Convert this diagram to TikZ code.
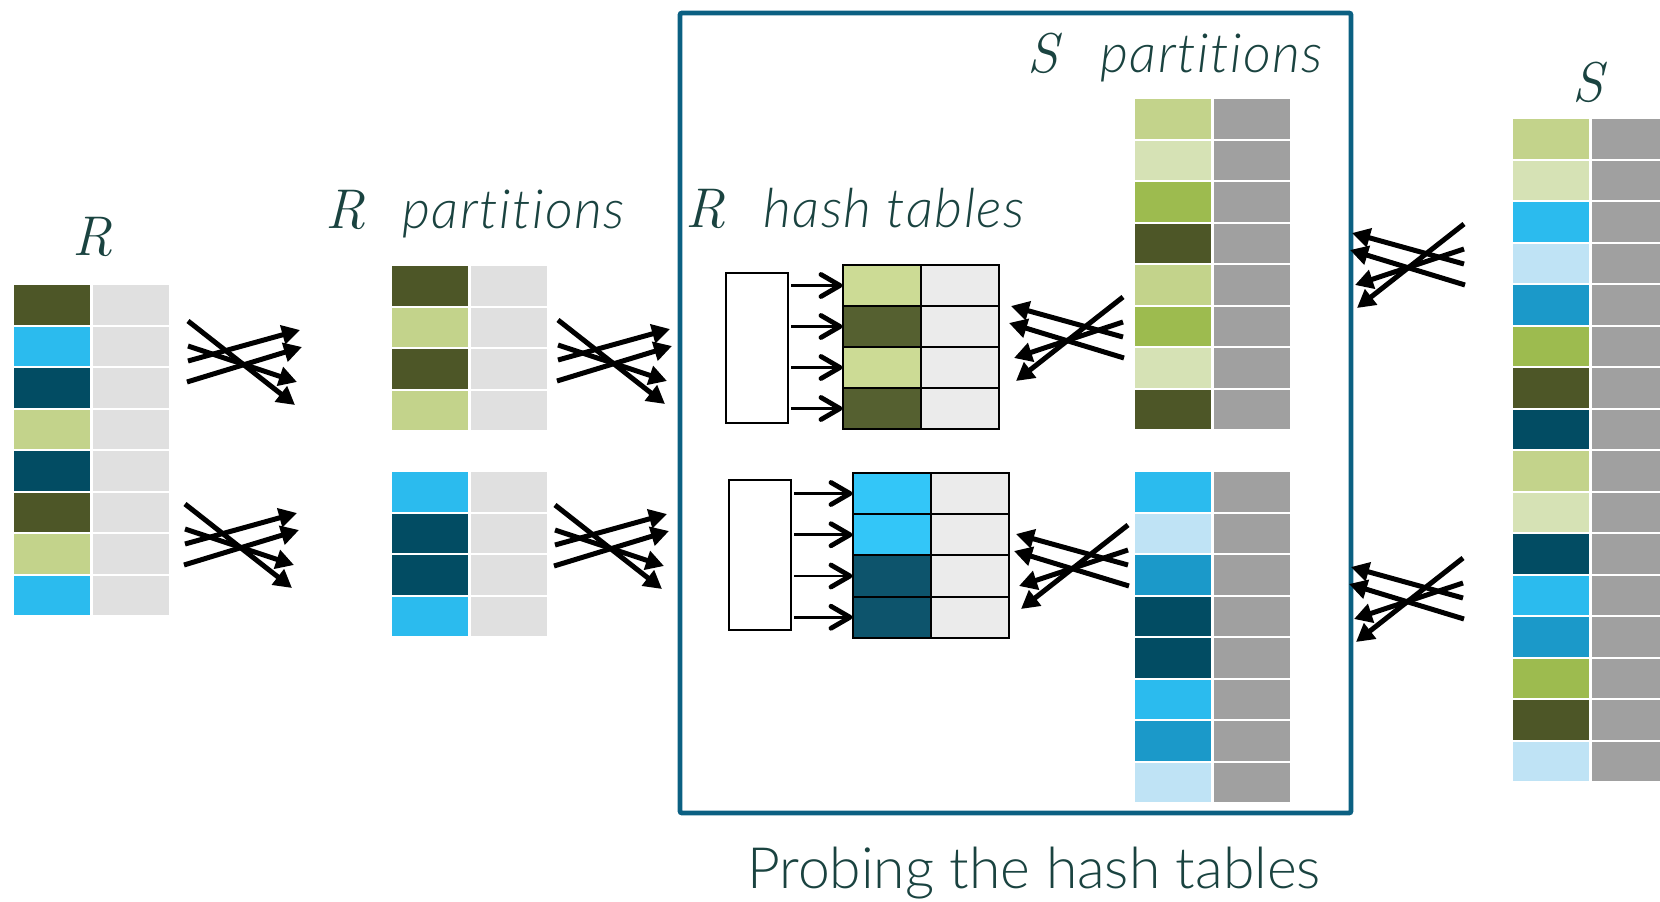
\documentclass[tikz,border=0pt]{standalone}
\usepackage{fontspec}
\usetikzlibrary{arrows.meta}
\newfontfamily\labfont{Lato}[UprightFont={* Light}, ItalicFont={* Light Italic}]
\newfontfamily\wordfont{Lato}[UprightFont={* Light Italic}, LetterSpace=2.8, Ligatures=NoCommon]
\definecolor{txt}{HTML}{1A4340}
\definecolor{frameblue}{HTML}{0B6082}
\definecolor{gOlive}{HTML}{4D5627}
\definecolor{gLight}{HTML}{C3D38B}
\definecolor{gPale}{HTML}{D6E2B5}
\definecolor{gMid}{HTML}{9DBB4F}
\definecolor{bCyan}{HTML}{2BBBEE}
\definecolor{bPale}{HTML}{BFE3F5}
\definecolor{bMid}{HTML}{1B99C9}
\definecolor{bDark}{HTML}{024C63}
\definecolor{lgray}{HTML}{E0E0E0}
\definecolor{dgray}{HTML}{A0A0A0}
\definecolor{hGreen}{HTML}{CCDB95}
\definecolor{hOlive}{HTML}{556030}
\definecolor{hCyan}{HTML}{33C6F8}
\definecolor{hDark}{HTML}{0D546C}
\definecolor{hGray}{HTML}{EBEBEB}
% name, x, y, colours, right colour, right width
\newcommand\coltable[6]{%
  \foreach \c [count=\i] in {#4} {
    \node[cell, fill=\c] (#1-\i) at (#2, {#3+(\i-1)*41.5}) {};
    \node[cell, fill=#5, minimum width=#6] (#1-\i-v) at ({#2+79}, {#3+(\i-1)*41.5}) {};
  }}
\begin{document}
\begin{tikzpicture}[x=1pt,y=-1pt,
  cell/.style={inner sep=0pt, outer sep=0pt, minimum width=76pt, minimum height=39.5pt, anchor=north west},
  hcell/.style={draw=black, line width=1.8pt, inner sep=0pt, outer sep=0pt, minimum width=78pt, minimum height=41pt, anchor=north west},
  dirbox/.style={draw=black, line width=2pt, fill=white, inner sep=0pt, outer sep=0pt, anchor=north west, minimum width=62pt, minimum height=150pt},
  bigarrow/.style={line width=5pt, -{Triangle[length=18pt,width=19pt]}},
  shaft/.style={line width=2.8pt},
  chev/.pic={\draw[line width=4.8pt, line cap=round, line join=round] (-19,-11) -- (0,0) -- (-19,11);},
  rel/.style={font=\fontsize{56}{60}\selectfont\itshape, text=txt, inner sep=0pt, anchor=base},
  word/.style={font=\wordfont\fontsize{54}{60}\selectfont, text=txt, inner sep=0pt, anchor=base west},
  cross/.pic={
    \coordinate (-s1) at (0,0);   \coordinate (-e1) at (107,84);
    \coordinate (-s2) at (0,25);  \coordinate (-e2) at (109,61);
    \coordinate (-s3) at (0,40);  \coordinate (-e3) at (112,9);
    \coordinate (-s4) at (-1,61); \coordinate (-e4) at (114,26);
    \draw[bigarrow] (-s1) -- (-e1);
    \draw[bigarrow] (-s2) -- (-e2);
    \draw[bigarrow] (-s3) -- (-e3);
    \draw[bigarrow] (-s4) -- (-e4);
  }
]
\useasboundingbox (0,0) rectangle (1660,902);

% frame
\draw[frameblue, line width=4.8pt, rounded corners=2pt] (680,13) rectangle (1351,813);

% tables
\coltable{R}{14}{285}{gOlive,bCyan,bDark,gLight,bDark,gOlive,gLight,bCyan}{lgray}{76pt}
\coltable{RPa}{392}{266}{gOlive,gLight,gOlive,gLight}{lgray}{76pt}
\coltable{RPb}{392}{472}{bCyan,bDark,bDark,bCyan}{lgray}{76pt}
\coltable{SPa}{1135}{99}{gLight,gPale,gMid,gOlive,gLight,gMid,gPale,gOlive}{dgray}{76pt}
\coltable{SPb}{1135}{472}{bCyan,bPale,bMid,bDark,bDark,bCyan,bMid,bPale}{dgray}{76pt}
\coltable{S}{1513}{119}{gLight,gPale,bCyan,bPale,bMid,gMid,gOlive,bDark,gLight,gPale,bDark,bCyan,bMid,gMid,gOlive,bPale}{dgray}{68pt}

% hash tables
\node[dirbox] (D1) at (726,273) {};
\foreach \c [count=\i] in {hGreen,hOlive,hGreen,hOlive} {
  \node[hcell, fill=\c] (H1-\i) at (843, {265+(\i-1)*41}) {};
  \node[hcell, fill=hGray] (H1-\i-v) at (921, {265+(\i-1)*41}) {};
  \coordinate (T1-\i) at ([xshift=-3pt]H1-\i.west);
  \draw[shaft] (D1.east |- T1-\i) ++(3,0) -- (T1-\i);
  \pic at (T1-\i) {chev};
}
\node[dirbox] (D2) at (729,480) {};
\foreach \c [count=\i] in {hCyan,hCyan,hDark,hDark} {
  \node[hcell, fill=\c] (H2-\i) at (853, {473+(\i-1)*41.25}) {};
  \node[hcell, fill=hGray] (H2-\i-v) at (931, {473+(\i-1)*41.25}) {};
  \coordinate (T2-\i) at ([xshift=-3pt]H2-\i.west);
  \draw[shaft] (D2.east |- T2-\i) ++(3,0) -- (T2-\i);
  \pic at (T2-\i) {chev};
}

% crossing arrow clusters
\pic (c1) at (188,321) {cross};
\pic (c2) at (185,504) {cross};
\pic (c3) at (558,320) {cross};
\pic (c4) at (555,505) {cross};
\pic[xscale=-1] (c5) at (1123,297) {cross};
\pic[xscale=-1] (c6) at (1128,525) {cross};
\pic[xscale=-1] (c7) at (1464,224) {cross};
\pic[xscale=-1] (c8) at (1463,558) {cross};

% labels
\node[rel] (Rname) at (92,255) {R};
\node[rel] (RPname) at (345,228) {R};
\node[word] (RPword) at (402,228) {partitions};
\node[rel] (RHname) at (705,227) {R};
\node[word] (RHword) at (763,227) {hash tables};
\node[rel] (SPname) at (1043,72) {S};
\node[word] (SPword) at (1100,72) {partitions};
\node[rel] (Sname) at (1588,101) {S};
\node[font=\labfont\fontsize{57}{60}\selectfont, text=txt, inner sep=0pt, anchor=base] (cap) at (1034,888) {Probing the hash tables};
\end{tikzpicture}
\end{document}
